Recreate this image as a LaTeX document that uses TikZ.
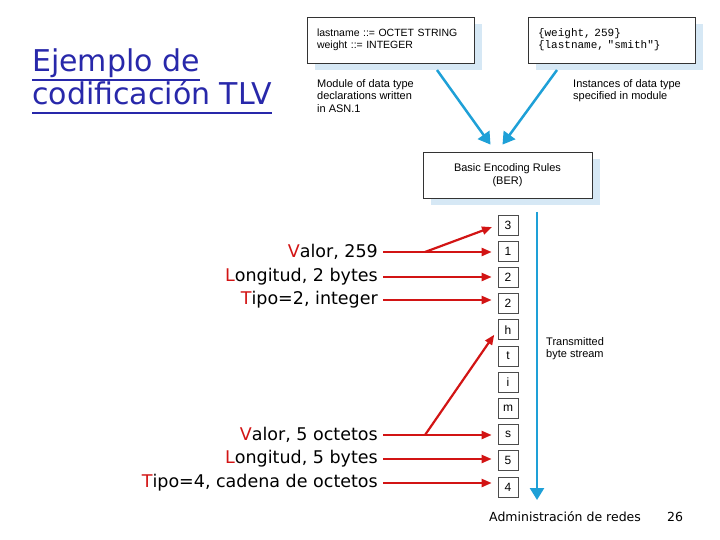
\documentclass[tikz,border=0pt]{standalone}
\usepackage{fontspec}
\setmainfont{DejaVu Sans}
\newfontfamily\figfont{Liberation Sans}
\newfontfamily\codefont{Liberation Mono}
\usetikzlibrary{arrows.meta,shadows}
\definecolor{titleblue}{RGB}{40,40,170}
\definecolor{streamblue}{RGB}{30,160,215}
\definecolor{shadeblue}{RGB}{214,232,245}
\definecolor{tlvred}{RGB}{210,20,20}
\begin{document}
\begin{tikzpicture}[x=1pt,y=-1pt,
  ttl/.style={anchor=base west,inner sep=0pt,text=titleblue,font=\fontsize{30}{33}\selectfont},
  uline/.style={draw=titleblue,line width=1.8pt},
  figbox/.style={draw=black!80,fill=white,line width=0.8pt,
    drop shadow={shadow xshift=8pt,shadow yshift=-7pt,fill=shadeblue,opacity=1}},
  bytebox/.style={draw=black!70,fill=white,line width=0.7pt,minimum size=20pt,inner sep=0pt,
    font=\figfont\fontsize{12}{14}\selectfont},
  note/.style={anchor=north west,align=left,inner sep=0pt,font=\figfont\fontsize{11}{12.5}\selectfont},
  tlv/.style={anchor=east,inner sep=0pt,font=\fontsize{17.5}{20}\selectfont},
  redline/.style={draw=tlvred,line width=2.2pt},
  redarrow/.style={redline,-{Triangle[length=10pt,width=8pt]},shorten >=6pt},
  bluearrow/.style={draw=streamblue,line width=2.5pt,-{Triangle[length=12pt,width=14pt]}}]
  \useasboundingbox (0,0) rectangle (720,540);

  \node[ttl] (ttlA) at (32,72) {Ejemplo de};
  \node[ttl] (ttlB) at (32,105) {codificación TLV};
  \draw[uline] ([yshift=-8pt]ttlA.base west) -- ([yshift=-8pt]ttlA.base east);
  \draw[uline] ([yshift=-8pt]ttlB.base west) -- ([yshift=-8pt]ttlB.base east);

  \node[figbox,minimum height=46pt,text width=147pt,inner xsep=10pt,align=left,
    font=\figfont\fontsize{10.5}{12}\selectfont] (asn) at (390.5,40)
    {lastname ::= OCTET STRING\\weight ::= INTEGER};
  \node[figbox,minimum height=46pt,text width=147pt,inner xsep=10pt,align=left,
    font=\codefont\fontsize{11}{12}\selectfont] (inst) at (611.5,40)
    {\{weight, 259\}\\\{lastname, "smith"\}};
  \node[note] (asncap) at (317,79) {Module of data type\\declarations written\\in ASN.1};
  \node[note] (instcap) at (573,79) {Instances of data type\\specified in module};

  \node[figbox,minimum width=169pt,minimum height=46pt,align=center,
    font=\figfont\fontsize{11}{13}\selectfont] (ber) at (507.5,175)
    {Basic Encoding Rules\\(BER)};
  \coordinate (asnfoot) at (437,70);
  \coordinate (instfoot) at (557,70);
  \draw[bluearrow] (asnfoot) -- ([shift={(-17,-7)}]ber.north);
  \draw[bluearrow] (instfoot) -- ([shift={(-5,-7)}]ber.north);

  \foreach \ch [count=\i from 1] in {3,1,2,2,h,t,i,m,s,5,4}
    \node[bytebox] (b\i) at (508,{225+26.2*(\i-1)}) {\ch};

  \coordinate (streamtop) at (537,212);
  \coordinate (streamend) at (537,500);
  \draw[bluearrow] (streamtop) -- (streamend);
  \node[note] (streamcap) at (546,337) {Transmitted\\byte stream};

  \node[tlv] (valA) at (378,252) {\textcolor{tlvred}{V}alor, 259};
  \node[tlv] (lenA) at (378,277) {\textcolor{tlvred}{L}ongitud, 2 bytes};
  \node[tlv] (typA) at (378,300) {\textcolor{tlvred}{T}ipo=2, integer};
  \node[tlv] (valB) at (378,435) {\textcolor{tlvred}{V}alor, 5 octetos};
  \node[tlv] (lenB) at (378,459) {\textcolor{tlvred}{L}ongitud, 5 bytes};
  \node[tlv] (typB) at (378,483) {\textcolor{tlvred}{T}ipo=4, cadena de octetos};

  \coordinate (forkA) at (425,252);
  \coordinate (forkB) at (425,435);
  \draw[redline,shorten <=5pt] (valA.east) -- (forkA);
  \draw[redarrow] (forkA) -- (b1.west);
  \draw[redarrow] (forkA) -- (forkA -| b2.west);
  \draw[redarrow,shorten <=5pt] (lenA.east) -- (lenA.east -| b3.west);
  \draw[redarrow,shorten <=5pt] (typA.east) -- (typA.east -| b4.west);
  \draw[redline,shorten <=5pt] (valB.east) -- (forkB);
  \draw[redarrow] (forkB) -- (b5.west);
  \draw[redarrow] (forkB) -- (forkB -| b9.west);
  \draw[redarrow,shorten <=5pt] (lenB.east) -- (lenB.east -| b10.west);
  \draw[redarrow,shorten <=5pt] (typB.east) -- (typB.east -| b11.west);

  \node[anchor=base west,inner sep=0pt,font=\fontsize{12.5}{14}\selectfont] (foot) at (489,521)
    {Administración de redes};
  \node[anchor=base,inner sep=0pt,font=\fontsize{12.5}{14}\selectfont] (page) at (675,521) {26};
\end{tikzpicture}
\end{document}
